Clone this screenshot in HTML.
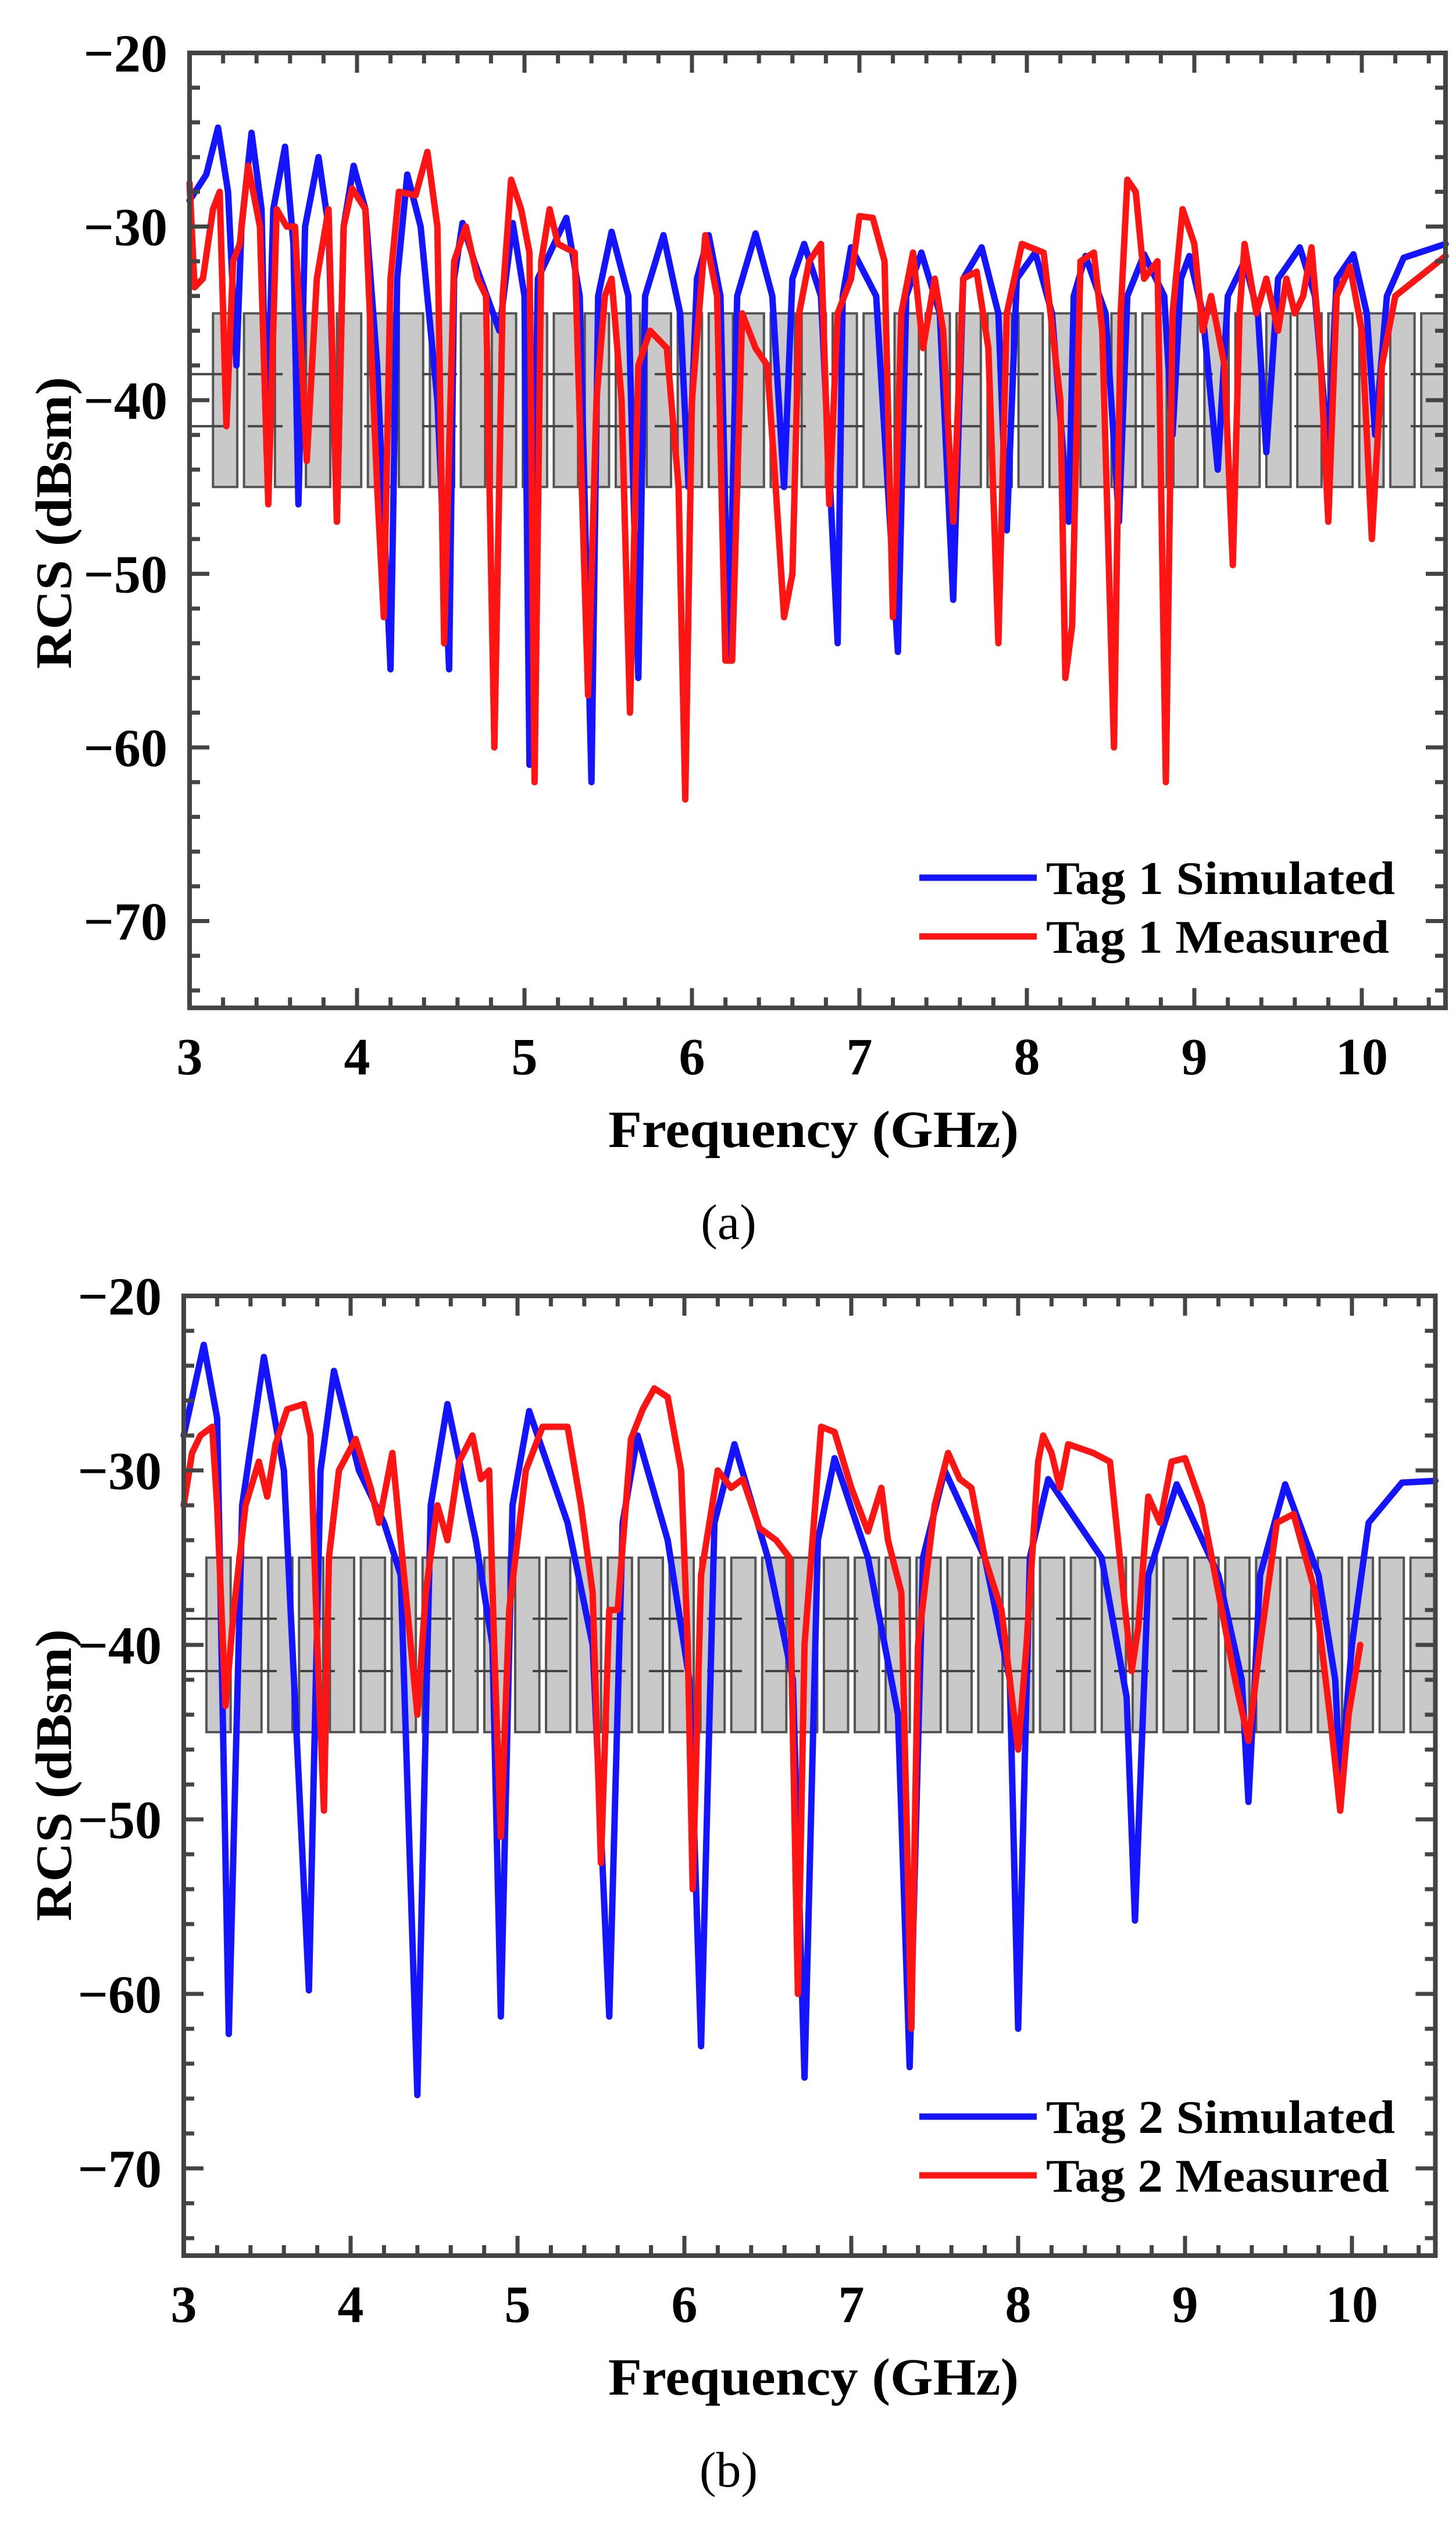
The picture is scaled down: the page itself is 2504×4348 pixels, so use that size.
<!DOCTYPE html>
<html><head><meta charset="utf-8">
<style>
html,body{margin:0;padding:0;background:#fff;}
svg{display:block;}
text{font-family:"Liberation Serif",serif;}
</style></head>
<body>
<svg id="fig" width="2504" height="4348" viewBox="0 0 2504 4348" xmlns="http://www.w3.org/2000/svg">
<rect x="0" y="0" width="2504" height="4348" fill="#fff"/>
</svg>
<script>
// ---- Panel (a) data ----
const xTicks = [3,4,5,6,7,8,9,10];
const yTicks = [-20,-30,-40,-50,-60,-70];
const fA_sim = [3.0,3.1,3.17,3.23,3.28,3.31,3.37,3.43,3.46,3.5,3.57,3.62,3.65,3.69,3.77,3.83,3.88,3.92,3.98,4.05,4.12,4.2,4.24,4.3,4.38,4.48,4.55,4.58,4.63,4.7,4.85,4.93,5.0,5.03,5.08,5.25,5.33,5.4,5.44,5.52,5.62,5.68,5.72,5.83,5.93,5.98,6.03,6.1,6.17,6.22,6.27,6.38,6.48,6.55,6.6,6.67,6.77,6.87,6.9,6.95,7.1,7.23,7.28,7.37,7.48,7.56,7.62,7.73,7.83,7.88,7.94,8.05,8.15,8.25,8.28,8.35,8.47,8.55,8.6,8.7,8.82,8.87,8.92,8.97,9.05,9.14,9.2,9.3,9.38,9.43,9.5,9.63,9.72,9.8,9.85,9.95,10.03,10.08,10.15,10.25,10.5];
const vA_sim = [-28.5,-27,-24.3,-28,-38,-30,-24.6,-29,-43,-29,-25.4,-31,-46,-30,-26,-30,-47,-30,-26.5,-29,-38,-55.5,-33,-27,-30,-40,-55.5,-33,-29.8,-32,-36,-29.8,-34,-61,-33,-29.5,-34,-62,-34,-30.3,-34,-56,-34,-30.5,-35,-45,-33,-30.5,-34,-55,-34,-30.4,-34,-45,-33,-31,-34,-54,-34,-31.2,-34,-54.5,-34,-31.5,-35,-51.5,-33,-31.2,-35,-47.5,-33,-31.5,-35,-47,-34,-31.7,-35,-47,-34,-31.6,-34,-42,-33,-31.7,-35,-44,-34,-32,-35,-43,-33,-31.2,-34,-43,-33,-31.6,-35,-42,-34,-31.8,-31];
const fA_meas = [3.0,3.03,3.08,3.14,3.18,3.22,3.26,3.3,3.35,3.42,3.47,3.52,3.58,3.63,3.7,3.76,3.83,3.88,3.92,3.97,4.05,4.12,4.16,4.2,4.25,4.35,4.42,4.48,4.52,4.58,4.65,4.72,4.77,4.82,4.87,4.92,4.98,5.03,5.06,5.1,5.15,5.2,5.3,5.38,5.43,5.48,5.52,5.58,5.63,5.68,5.75,5.85,5.92,5.96,6.0,6.08,6.15,6.2,6.24,6.3,6.38,6.45,6.5,6.55,6.6,6.64,6.7,6.77,6.82,6.87,6.95,7.0,7.08,7.15,7.2,7.25,7.32,7.38,7.45,7.5,7.56,7.62,7.7,7.77,7.83,7.88,7.97,8.1,8.2,8.23,8.27,8.32,8.4,8.45,8.52,8.56,8.6,8.65,8.7,8.78,8.83,8.87,8.93,9.0,9.05,9.1,9.18,9.23,9.27,9.3,9.37,9.43,9.5,9.55,9.6,9.65,9.7,9.75,9.8,9.85,9.93,10.0,10.06,10.12,10.2,10.5];
const vA_meas = [-27.5,-33.5,-33,-29,-28,-41.5,-32,-31,-26.5,-30,-46,-29,-30,-30,-43.5,-33,-29,-47,-30,-27.8,-29,-45,-52.5,-33,-28,-28.2,-25.7,-30,-54,-32,-30,-33,-34,-60,-34,-27.3,-29,-31.5,-62,-32,-29,-31,-31.5,-57,-40,-34,-33,-40,-58,-38,-36,-37,-45,-63,-40,-30.5,-34,-55,-55,-35,-37,-38,-45,-52.5,-50,-35,-32,-31,-46,-35,-33,-29.4,-29.5,-32,-52.5,-35,-31.5,-37,-33,-36,-47,-33,-32.6,-37,-54,-35,-31,-31.5,-40,-56,-53,-32,-31.5,-36,-60,-35,-27.3,-28,-33,-32,-62,-35,-29,-31,-36,-34,-38,-49.5,-35,-31,-35,-33,-36,-33,-35,-34,-31.2,-37,-47,-34,-32.3,-36,-48,-38,-34,-31.7];

// ---- Panel (b) data ----
const fB_sim = [3.0,3.12,3.2,3.27,3.35,3.48,3.6,3.75,3.82,3.9,4.05,4.2,4.3,4.4,4.48,4.58,4.75,4.85,4.9,4.97,5.07,5.3,5.45,5.55,5.63,5.72,5.9,6.03,6.1,6.18,6.3,6.5,6.65,6.72,6.8,6.9,7.1,7.28,7.35,7.43,7.56,7.8,7.95,8.0,8.07,8.18,8.5,8.65,8.7,8.78,8.95,9.2,9.34,9.38,9.45,9.6,9.8,9.9,9.93,10.0,10.1,10.3,10.5];
const vB_sim = [-28,-22.8,-27,-62.3,-32,-23.5,-30,-59.8,-30,-24.3,-30,-33,-36,-65.8,-32,-26.2,-34,-40,-61.3,-32,-26.6,-33,-40,-61.3,-33,-28,-34,-42,-63,-33,-28.5,-35,-42,-64.8,-34,-29.3,-35,-44,-64.2,-35,-30,-35,-42,-62,-35,-30.5,-35,-43,-55.8,-36,-30.8,-36,-42,-49,-36,-30.8,-36,-42,-48,-40,-33,-30.7,-30.6];
const fB_meas = [3.0,3.05,3.1,3.17,3.2,3.25,3.3,3.37,3.45,3.5,3.55,3.62,3.72,3.76,3.8,3.84,3.87,3.93,4.03,4.12,4.17,4.25,4.3,4.4,4.45,4.52,4.58,4.65,4.73,4.78,4.83,4.86,4.9,4.95,5.05,5.15,5.3,5.38,5.45,5.5,5.55,5.6,5.68,5.75,5.82,5.9,5.98,6.02,6.05,6.1,6.2,6.28,6.35,6.45,6.55,6.63,6.68,6.72,6.82,6.9,7.0,7.1,7.18,7.22,7.3,7.36,7.4,7.5,7.58,7.65,7.72,7.8,7.9,8.0,8.05,8.12,8.15,8.2,8.25,8.3,8.45,8.55,8.62,8.68,8.72,8.78,8.85,8.92,9.0,9.1,9.2,9.3,9.38,9.45,9.55,9.65,9.78,9.88,9.93,9.98,10.05];
const vB_meas = [-32,-29,-28,-27.5,-32,-43.5,-38,-32,-29.5,-31.5,-28.5,-26.5,-26.2,-28,-40,-49.5,-35,-30,-28.2,-31,-33,-29,-34,-44,-37,-32,-34,-29.5,-28,-30.5,-30,-40,-51,-38,-30,-27.5,-27.5,-32,-37,-52.5,-38,-38,-28.2,-26.5,-25.3,-25.8,-30,-40,-54,-36,-30,-31,-30.5,-33.3,-34,-35,-60,-40,-27.5,-27.8,-31,-33.5,-31,-34,-37,-62,-40,-32,-29,-30.5,-31,-35,-38,-46,-40,-29.5,-28,-29,-31,-28.5,-29,-29.5,-36,-41.5,-39,-31.5,-33,-29.5,-29.3,-32,-37,-42,-45.5,-40,-33,-32.5,-37,-45,-49.5,-44,-40];

const NS = 'http://www.w3.org/2000/svg';
const svg = document.getElementById('fig');
function mk(tag, attrs, parent){
  const e = document.createElementNS(NS, tag);
  for (const k in attrs) e.setAttribute(k, attrs[k]);
  (parent||svg).appendChild(e);
  return e;
}

function panel(P){
  const g = mk('g', {});
  
  
  const X = f => P.x0 + (f - 3) * P.kx;
  const Y = v => P.y0 + (-20 - v) * P.ky;
  const L = X(3), R = X(10.5), T = Y(-20), B = Y(-75);

  const band = mk('g', {}, g);
  
  
  for (let f = P.boxStart; f < 10.5; f += 0.185) {
    const x1 = X(f), x2 = Math.min(X(f + 0.145), R);
    if (x2 - x1 < 6) continue;
    const r = mk('rect', {x:x1, y:Y(-35), width:x2-x1, height:Y(-45)-Y(-35), fill:'#c9c9c9', stroke:'#555', 'stroke-width':4}, band);
    
    
  }
  [-38.5, -41.5].forEach(v => {
    const d = mk('line', {x1:L, x2:R, y1:Y(v), y2:Y(v), stroke:'#444', 'stroke-width':4, 'stroke-dasharray':'60 40'}, band);
    
    
  });

  function series(fs, vs, color, nm){
    let d = '';
    fs.forEach((f,i) => { d += (i ? 'L' : 'M') + X(f).toFixed(1) + ' ' + Y(vs[i]).toFixed(1); });
    const p = mk('path', {d:d, fill:'none', stroke:color, 'stroke-width':11, 'stroke-linejoin':'round', 'stroke-linecap':'round'}, g);
    
    
  }
  series(P.fs, P.vs, '#1414ff', 'simulated-line');
  series(P.fm, P.vm, '#ff1414', 'measured-line');

  const fr = mk('rect', {x:L, y:T, width:R-L, height:B-T, fill:'none', stroke:'#444', 'stroke-width':8}, g);
  
  

  const tk = mk('g', {stroke:'#444', 'stroke-width':7}, g);
  
  
  for (let i = 1; i < 38; i++) {
    const f = 3 + i * 0.2;
    const major = Math.abs(f - Math.round(f)) < 0.01;
    const len = major ? 34 : 18;
    mk('line', {x1:X(f), x2:X(f), y1:B, y2:B-len}, tk);
    mk('line', {x1:X(f), x2:X(f), y1:T, y2:T+len}, tk);
  }
  for (let v = -22; v > -75; v -= 2) {
    const major = v % 10 === 0;
    const len = major ? 34 : 18;
    mk('line', {x1:L, x2:L+len, y1:Y(v), y2:Y(v)}, tk);
    mk('line', {x1:R, x2:R-len, y1:Y(v), y2:Y(v)}, tk);
  }

  xTicks.forEach(t => {
    const e = mk('text', {x:X(t), y:B+114, 'font-size':90, 'font-weight':'bold', 'text-anchor':'middle', fill:'#000'}, g);
    e.textContent = t;
    
    
  });
  yTicks.forEach(t => {
    const e = mk('text', {x:L-38, y:Y(t)+32, 'font-size':92, 'font-weight':'bold', 'text-anchor':'end', fill:'#000'}, g);
    e.textContent = '\u2212' + Math.abs(t);
    
    
  });

  const xt = mk('text', {x:1399, y:B+239, 'font-size':90, 'font-weight':'bold', 'text-anchor':'middle', textLength:706, lengthAdjust:'spacingAndGlyphs'}, g);
  xt.textContent = 'Frequency (GHz)';
  
  
  const cy = P.ytc;
  const yt = mk('text', {x:0, y:0, 'font-size':88, 'font-weight':'bold', 'text-anchor':'middle', textLength:502, lengthAdjust:'spacingAndGlyphs', transform:'translate(122,'+cy+') rotate(-90)'}, g);
  yt.textContent = 'RCS (dBsm)';
  
  

  const lg = mk('g', {}, g);
  
  
  [[P.leg1, '#1414ff', P.ly1, 600],[P.leg2, '#ff1414', P.ly2, 590]].forEach(([txt,col,ly,w]) => {
    const ln = mk('line', {x1:1581, x2:1783, y1:ly, y2:ly, stroke:col, 'stroke-width':11}, lg);
    
    
    const t = mk('text', {x:1799, y:ly+28, 'font-size':80, 'font-weight':'bold', textLength:w, lengthAdjust:'spacingAndGlyphs'}, lg);
    t.textContent = txt;
    
    
  });

  const cap = mk('text', {x:1253, y:P.capY, 'font-size':86, 'text-anchor':'middle'}, g);
  cap.textContent = P.cap;
  
  
}

panel({name:'panel-a', x0:326, kx:288, y0:91, ky:29.85, boxStart:3.14,
  fs:fA_sim, vs:vA_sim, fm:fA_meas, vm:vA_meas,
  leg1:'Tag 1 Simulated', leg2:'Tag 1 Measured', ly1:1509, ly2:1610, ytc:899, cap:'(a)', capY:2130});
panel({name:'panel-b', x0:316, kx:287, y0:2228, ky:30, boxStart:3.136,
  fs:fB_sim, vs:vB_sim, fm:fB_meas, vm:vB_meas,
  leg1:'Tag 2 Simulated', leg2:'Tag 2 Measured', ly1:3639, ly2:3740, ytc:3052, cap:'(b)', capY:4275});
</script>
</body></html>
